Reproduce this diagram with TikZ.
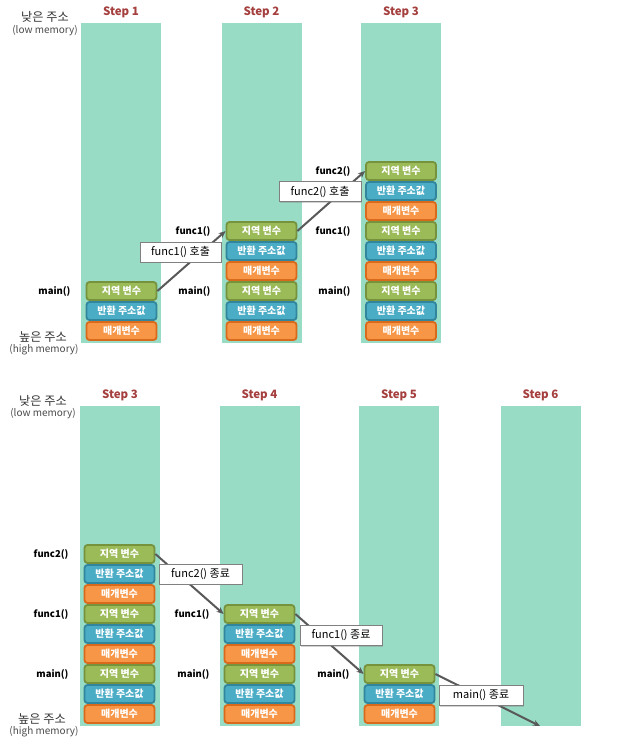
\documentclass[tikz,border=0pt]{standalone}
\usepackage{fontspec}
\setmainfont{Noto Sans CJK KR}
\usepackage{tikz}
\usetikzlibrary{arrows.meta,shadows}

\definecolor{stackbg}{HTML}{98DCC6}
\definecolor{localfill}{HTML}{9BBB59}
\definecolor{localdraw}{HTML}{76923C}
\definecolor{retfill}{HTML}{4BACC6}
\definecolor{retdraw}{HTML}{31859C}
\definecolor{argfill}{HTML}{F79646}
\definecolor{argdraw}{HTML}{D9691B}
\definecolor{steptitle}{HTML}{A5403F}
\definecolor{arrowgray}{HTML}{595959}

\begin{document}
\begin{tikzpicture}[x=1pt, y=-1pt,
		stack/.style={fill=stackbg, minimum width=80, minimum height=320, inner sep=0},
		title/.style={text=steptitle, font=\fontsize{11.5}{12}\selectfont\bfseries},
		local/.style={draw=localdraw, fill=localfill, line width=1.8pt, rounded corners=3pt, minimum width=70, minimum height=18, inner sep=0, text=white, font=\fontsize{10}{10}\selectfont\bfseries},
		ret/.style={local, draw=retdraw, fill=retfill},
		arg/.style={local, draw=argdraw, fill=argfill},
		fname/.style={anchor=east, font=\fontsize{9.5}{10}\selectfont\bfseries},
		addr/.style={text=black!80, font=\fontsize{12.2}{13}\selectfont},
		mem/.style={text=black!70, font=\fontsize{10}{11}\selectfont},
		callout/.style={draw=gray, fill=white, minimum height=20, inner sep=0, font=\fontsize{11}{11}\selectfont, drop shadow={shadow xshift=1pt, shadow yshift=-1pt, opacity=.35}},
		arrow/.style={-{Stealth[length=7pt, width=6pt]}, line width=2pt, draw=arrowgray}
		]
		
		\fill[white] (0,0) rectangle (632,747);
		\useasboundingbox (0,0) rectangle (632,747);
		
		% Stacks (top)
		\node[stack] (colA1) at (121,183) {};
		\node[stack] (colA2) at (261.5,183) {};
		\node[stack] (colA3) at (401,183) {};
		\node[title] (titleA1) at (121,12) {Step 1};
		\node[title] (titleA2) at (261.5,12) {Step 2};
		\node[title] (titleA3) at (401,12) {Step 3};
		
		% Stacks (bottom)
		\node[stack] (colB3) at (120,565.5) {};
		\node[stack] (colB4) at (259.5,565.5) {};
		\node[stack] (colB5) at (399,565.5) {};
		\node[stack] (colB6) at (540.5,565.5) {};
		\node[title] (titleB3) at (120,395) {Step 3};
		\node[title] (titleB4) at (259.5,395) {Step 4};
		\node[title] (titleB5) at (399,395) {Step 5};
		\node[title] (titleB6) at (540.5,395) {Step 6};
		\coordinate (endB6) at (540,726);
		
		% Address labels
		\node[addr] (lowA) at (45,17) {낮은 주소};
		\node[mem] (lowmemA) at (45,31) {(low memory)};
		\node[addr] (highA) at (43,337) {높은 주소};
		\node[mem] (highmemA) at (44,350) {(high memory)};
		\node[addr] (lowB) at (43,401) {낮은 주소};
		\node[mem] (lowmemB) at (43,414) {(low memory)};
		\node[addr] (highB) at (42,719) {높은 주소};
		\node[mem] (highmemB) at (44,732) {(high memory)};
		
		% Step 1
		\node[local] (a1main) at (121.5,291) {지역 변수};
		\node[ret] (a1mainret) at (121.5,311) {반환 주소값};
		\node[arg] (a1mainarg) at (121.5,331) {매개변수};
		\node[fname] (a1mainlbl) at (74,291) {main()};
		
		% Step 2
		\node[local] (a2func1) at (261.5,231) {지역 변수};
		\node[ret] (a2func1ret) at (261.5,251) {반환 주소값};
		\node[arg] (a2func1arg) at (261.5,271) {매개변수};
		\node[local] (a2main) at (261.5,291) {지역 변수};
		\node[ret] (a2mainret) at (261.5,311) {반환 주소값};
		\node[arg] (a2mainarg) at (261.5,331) {매개변수};
		\node[fname] (a2func1lbl) at (214,231) {func1()};
		\node[fname] (a2mainlbl) at (214,291) {main()};
		
		% Step 3
		\node[local] (a3func2) at (401,171) {지역 변수};
		\node[ret] (a3func2ret) at (401,191) {반환 주소값};
		\node[arg] (a3func2arg) at (401,211) {매개변수};
		\node[local] (a3func1) at (401,231) {지역 변수};
		\node[ret] (a3func1ret) at (401,251) {반환 주소값};
		\node[arg] (a3func1arg) at (401,271) {매개변수};
		\node[local] (a3main) at (401,291) {지역 변수};
		\node[ret] (a3mainret) at (401,311) {반환 주소값};
		\node[arg] (a3mainarg) at (401,331) {매개변수};
		\node[fname] (a3func2lbl) at (354,171) {func2()};
		\node[fname] (a3func1lbl) at (354,231) {func1()};
		\node[fname] (a3mainlbl) at (354,291) {main()};
		
		% Step 3 (bottom)
		\node[local] (b3func2) at (119.5,554) {지역 변수};
		\node[ret] (b3func2ret) at (119.5,574) {반환 주소값};
		\node[arg] (b3func2arg) at (119.5,594) {매개변수};
		\node[local] (b3func1) at (119.5,614) {지역 변수};
		\node[ret] (b3func1ret) at (119.5,634) {반환 주소값};
		\node[arg] (b3func1arg) at (119.5,654) {매개변수};
		\node[local] (b3main) at (119.5,674) {지역 변수};
		\node[ret] (b3mainret) at (119.5,694) {반환 주소값};
		\node[arg] (b3mainarg) at (119.5,714) {매개변수};
		\node[fname] (b3func2lbl) at (72,554) {func2()};
		\node[fname] (b3func1lbl) at (72,614) {func1()};
		\node[fname] (b3mainlbl) at (72,674) {main()};
		
		% Step 4
		\node[local] (b4func1) at (259.5,614) {지역 변수};
		\node[ret] (b4func1ret) at (259.5,634) {반환 주소값};
		\node[arg] (b4func1arg) at (259.5,654) {매개변수};
		\node[local] (b4main) at (259.5,674) {지역 변수};
		\node[ret] (b4mainret) at (259.5,694) {반환 주소값};
		\node[arg] (b4mainarg) at (259.5,714) {매개변수};
		\node[fname] (b4func1lbl) at (213,614) {func1()};
		\node[fname] (b4mainlbl) at (213,674) {main()};
		
		% Step 5
		\node[local] (b5main) at (399.5,674) {지역 변수};
		\node[ret] (b5mainret) at (399.5,694) {반환 주소값};
		\node[arg] (b5mainarg) at (399.5,714) {매개변수};
		\node[fname] (b5mainlbl) at (353,674) {main()};
		
		% Arrows
		\draw[arrow] (a1main.east) -- (a2func1.west);
		\draw[arrow] (a2func1.east) -- (a3func2.west);
		\draw[arrow] (b3func2.east) -- (b4func1.west);
		\draw[arrow] (b4func1.east) -- (b5main.west);
		\draw[arrow] (b5main.east) -- (endB6);
		
		% Callouts
		\node[callout, minimum width=81] (call1) at (180.5,252) {func1() 호출};
		\node[callout, minimum width=82] (call2) at (320,191.5) {func2() 호출};
		\node[callout, minimum width=83] (ret2) at (200.5,574) {func2() 종료};
		\node[callout, minimum width=82] (ret1) at (341,635.5) {func1() 종료};
		\node[callout, minimum width=84] (retmain) at (481,695.5) {main() 종료};
		
	\end{tikzpicture}
\end{document}
